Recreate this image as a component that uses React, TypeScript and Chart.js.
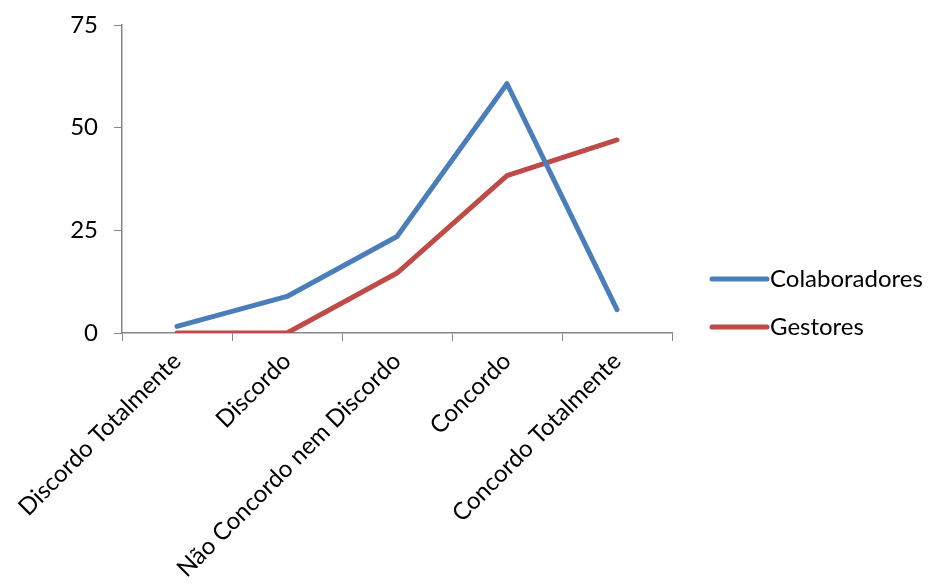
import React, { useEffect, useRef } from "react";
import { Chart, registerables } from "chart.js";

Chart.register(...registerables);

const categories = [
  "Discordo Totalmente",
  "Discordo",
  "Não Concordo nem Discordo",
  "Concordo",
  "Concordo Totalmente",
];
const colaboradores = [1.6, 8.9, 23.5, 60.7, 5.7];
const gestores = [0, 0, 14.6, 38.3, 47.0];
const yTicks = [0, 25, 50, 75];

const FONT = "Lato, 'Open Sans', sans-serif";
const FONT_SIZE = 24;

const legendPlugin = {
  id: "sideLegend",
  afterDraw(chart: any) {
    const ctx = chart.ctx;
    const area = chart.chartArea;
    const x0 = area.right + 40;
    const lineLen = 55;
    const ys = [279, 327];
    ctx.save();
    chart.data.datasets.forEach((ds: any, i: number) => {
      const y = ys[i];
      ctx.strokeStyle = ds.borderColor;
      ctx.lineWidth = 5;
      ctx.lineCap = "round";
      ctx.beginPath();
      ctx.moveTo(x0, y);
      ctx.lineTo(x0 + lineLen, y);
      ctx.stroke();
      ctx.fillStyle = "#000000";
      ctx.font = `${FONT_SIZE}px ${FONT}`;
      ctx.textBaseline = "middle";
      ctx.textAlign = "left";
      ctx.fillText(ds.label, x0 + lineLen + 3, y);
    });
    ctx.restore();
  },
};

export default function App() {
  const ref = useRef<HTMLCanvasElement>(null);
  useEffect(() => {
    if (!ref.current) return;
    const chart = new Chart(ref.current, {
      type: "line",
      data: {
        labels: categories,
        datasets: [
          {
            label: "Colaboradores",
            data: colaboradores,
            borderColor: "#4A7EBB",
            backgroundColor: "#4A7EBB",
            borderWidth: 5,
            pointRadius: 0,
            borderCapStyle: "round",
            borderJoinStyle: "round",
            tension: 0,
          },
          {
            label: "Gestores",
            data: gestores,
            borderColor: "#BE4B48",
            backgroundColor: "#BE4B48",
            borderWidth: 5,
            pointRadius: 0,
            borderCapStyle: "round",
            borderJoinStyle: "round",
            tension: 0,
          },
        ],
      },
      options: {
        animation: false,
        responsive: true,
        maintainAspectRatio: false,
        layout: { padding: { top: 25, left: 0, right: 260, bottom: 0 } },
        plugins: {
          legend: { display: false },
          tooltip: { enabled: false },
        },
        scales: {
          x: {
            type: "category",
            offset: true,
            grid: {
              offset: true,
              drawOnChartArea: false,
              drawTicks: true,
              tickLength: 8,
              color: "#868686",
            },
            border: { color: "#868686", width: 1.5 },
            ticks: {
              color: "#000000",
              font: { family: FONT, size: FONT_SIZE },
              minRotation: 45,
              maxRotation: 45,
              autoSkip: false,
              padding: 6,
            },
            afterFit(scale: any) {
              scale.height = 585 - 333;
              scale.paddingLeft = 0;
              scale.paddingRight = 0;
            },
          },
          y: {
            min: 0,
            max: 75,
            afterBuildTicks(scale: any) {
              scale.ticks = yTicks.map((v) => ({ value: v }));
            },
            grid: {
              drawOnChartArea: false,
              drawTicks: true,
              tickLength: 8,
              color: "#868686",
            },
            border: { color: "#868686", width: 1.5 },
            ticks: {
              color: "#000000",
              font: { family: FONT, size: FONT_SIZE },
              padding: 16,
            },
            afterFit(scale: any) {
              scale.width = 122;
              scale.paddingTop = 0;
              scale.paddingBottom = 0;
            },
          },
        },
      },
      plugins: [legendPlugin],
    });
    return () => chart.destroy();
  }, []);
  return (
    <div style={{ position: "absolute", left: 0, top: 0, width: 932, height: 585 }}>
      <canvas ref={ref} />
    </div>
  );
}
